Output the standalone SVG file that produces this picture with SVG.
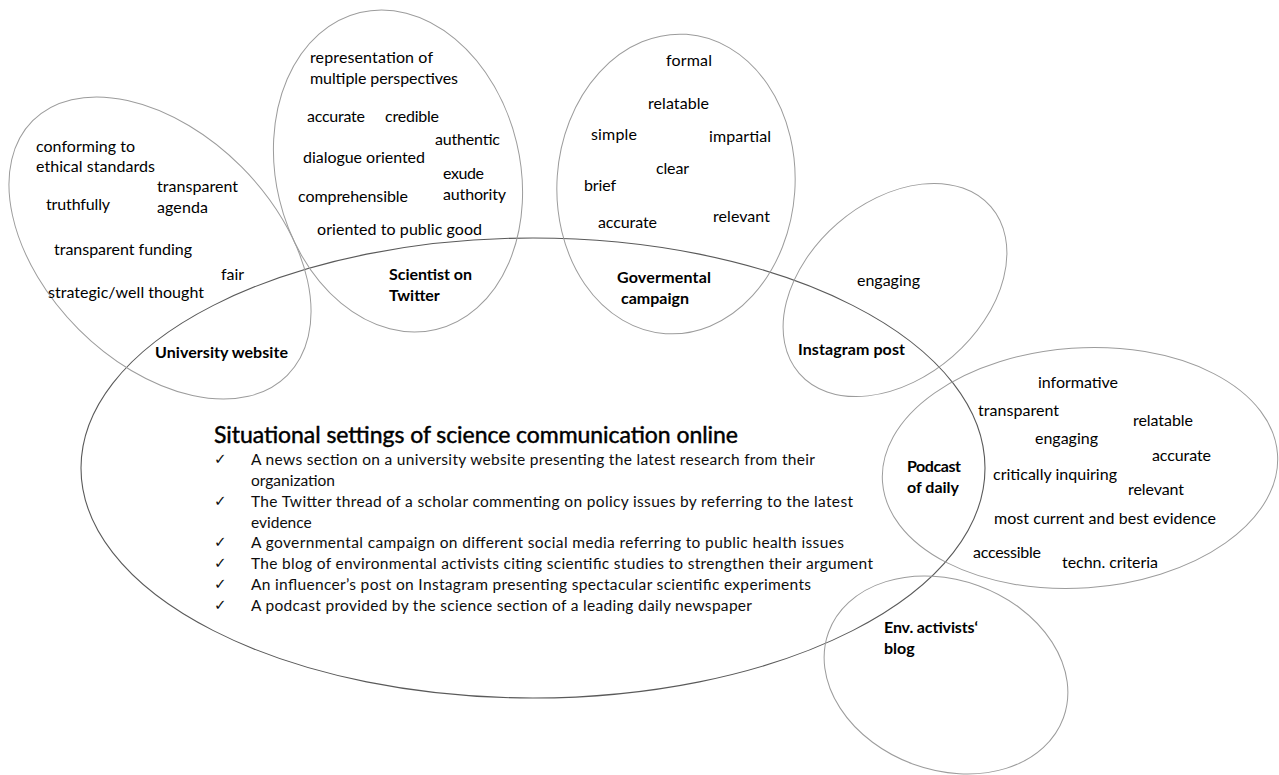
<svg xmlns="http://www.w3.org/2000/svg" width="1279" height="775" viewBox="0 0 1279 775">
  <style>
    .bg { fill: #ffffff; }
    .ring { fill: none; stroke: #9c9c9c; stroke-width: 1; }
    .main-ring { fill: none; stroke: #5a5a5a; stroke-width: 1.1; }
    .kw { font-family: Lato, "Open Sans", "Liberation Sans", sans-serif; font-size: 16px; fill: #000000; }
    .lbl { font-family: Lato, "Open Sans", "Liberation Sans", sans-serif; font-size: 16px; font-weight: 700; fill: #000000; }
    .title { font-family: Lato, "Open Sans", "Liberation Sans", sans-serif; font-size: 23px; fill: #000000; stroke: #000000; stroke-width: 0.45; }
    .item { font-family: Lato, "Open Sans", "Liberation Sans", sans-serif; font-size: 15.5px; fill: #0d0d0d; }
    .tick { font-family: "DejaVu Sans", sans-serif; font-size: 15px; fill: #0d0d0d; }
  </style>

  <rect class="bg" x="0" y="0" width="1279" height="775"/>

  <!-- central setting: all online science communication situations -->
  <g id="settings">
    <ellipse class="main-ring" cx="533" cy="468" rx="452" ry="230"/>
    <text class="title" x="214" y="443" textLength="524">Situational settings of science communication online</text>
    <g class="tick">
      <text x="214" y="464">✓</text>
      <text x="214" y="506">✓</text>
      <text x="214" y="547">✓</text>
      <text x="214" y="568">✓</text>
      <text x="214" y="589">✓</text>
      <text x="214" y="610">✓</text>
    </g>
    <text class="item" x="251" y="465" textLength="564">A news section on a university website presenting the latest research from their</text>
    <text class="item" x="251" y="486">organization</text>
    <text class="item" x="251" y="507" textLength="602">The Twitter thread of a scholar commenting on policy issues by referring to the latest</text>
    <text class="item" x="251" y="528">evidence</text>
    <text class="item" x="251" y="548" textLength="593">A governmental campaign on different social media referring to public health issues</text>
    <text class="item" x="251" y="569" textLength="622">The blog of environmental activists citing scientific studies to strengthen their argument</text>
    <text class="item" x="251" y="590" textLength="560">An influencer’s post on Instagram presenting spectacular scientific experiments</text>
    <text class="item" x="251" y="611" textLength="501">A podcast provided by the science section of a leading daily newspaper</text>
  </g>

  <!-- university website -->
  <g id="university-website">
    <ellipse class="ring" cx="160" cy="248" rx="180" ry="115" transform="rotate(45 160 248)"/>
    <text class="kw" x="36" y="152" textLength="99">conforming to</text>
    <text class="kw" x="36" y="172" textLength="119">ethical standards</text>
    <text class="kw" x="157" y="192" textLength="81">transparent</text>
    <text class="kw" x="157" y="213" textLength="51">agenda</text>
    <text class="kw" x="46" y="210" textLength="64">truthfully</text>
    <text class="kw" x="54" y="255" textLength="138">transparent funding</text>
    <text class="kw" x="221" y="280" textLength="23">fair</text>
    <text class="kw" x="48" y="298" textLength="156">strategic/well thought</text>
    <text class="lbl" x="155" y="358" textLength="133">University website</text>
  </g>

  <!-- scientist on twitter -->
  <g id="scientist-on-twitter">
    <ellipse class="ring" cx="398" cy="171" rx="122" ry="163" transform="rotate(-13.5 398 171)"/>
    <text class="kw" x="310" y="63" textLength="123">representation of</text>
    <text class="kw" x="310" y="84" textLength="148">multiple perspectives</text>
    <text class="kw" x="307" y="122" textLength="58">accurate</text>
    <text class="kw" x="385" y="122" textLength="54">credible</text>
    <text class="kw" x="435" y="145" textLength="65">authentic</text>
    <text class="kw" x="303" y="163" textLength="122">dialogue oriented</text>
    <text class="kw" x="443" y="179" textLength="41">exude</text>
    <text class="kw" x="443" y="200" textLength="63">authority</text>
    <text class="kw" x="298" y="202" textLength="110">comprehensible</text>
    <text class="kw" x="317" y="235" textLength="165">oriented to public good</text>
    <text class="lbl" x="389" y="280" textLength="83">Scientist on</text>
    <text class="lbl" x="389" y="301">Twitter</text>
  </g>

  <!-- governmental campaign -->
  <g id="governmental-campaign">
    <ellipse class="ring" cx="676" cy="184" rx="119" ry="150" transform="rotate(4 676 184)"/>
    <text class="kw" x="666" y="66" textLength="46">formal</text>
    <text class="kw" x="648" y="109" textLength="61">relatable</text>
    <text class="kw" x="591" y="140" textLength="46">simple</text>
    <text class="kw" x="709" y="142" textLength="62">impartial</text>
    <text class="kw" x="656" y="174" textLength="33">clear</text>
    <text class="kw" x="584" y="191" textLength="32">brief</text>
    <text class="kw" x="598" y="228" textLength="59">accurate</text>
    <text class="kw" x="713" y="222" textLength="57">relevant</text>
    <text class="lbl" x="617" y="283" textLength="94">Govermental</text>
    <text class="lbl" x="621" y="304" textLength="68">campaign</text>
  </g>

  <!-- instagram post -->
  <g id="instagram-post">
    <ellipse class="ring" cx="895" cy="290" rx="127" ry="88" transform="rotate(-41 895 290)"/>
    <text class="kw" x="857" y="286" textLength="63">engaging</text>
    <text class="lbl" x="798" y="355" textLength="107">Instagram post</text>
  </g>

  <!-- podcast of a daily newspaper -->
  <g id="podcast-of-daily">
    <ellipse class="ring" cx="1080" cy="468" rx="198" ry="120" transform="rotate(-4 1080 468)"/>
    <text class="kw" x="1038" y="388" textLength="80">informative</text>
    <text class="kw" x="978" y="416" textLength="81">transparent</text>
    <text class="kw" x="1133" y="426" textLength="60">relatable</text>
    <text class="kw" x="1035" y="444" textLength="63">engaging</text>
    <text class="kw" x="1152" y="461" textLength="59">accurate</text>
    <text class="kw" x="993" y="480" textLength="124">critically inquiring</text>
    <text class="kw" x="1128" y="495" textLength="56">relevant</text>
    <text class="kw" x="994" y="524" textLength="222">most current and best evidence</text>
    <text class="kw" x="973" y="558" textLength="68">accessible</text>
    <text class="kw" x="1062" y="568" textLength="96">techn. criteria</text>
    <text class="lbl" x="907" y="472" textLength="54">Podcast</text>
    <text class="lbl" x="907" y="493" textLength="52">of daily</text>
  </g>

  <!-- environmental activists' blog -->
  <g id="env-activists-blog">
    <ellipse class="ring" cx="946" cy="675" rx="125" ry="95" transform="rotate(20 946 675)"/>
    <text class="lbl" x="884" y="633" textLength="94">Env. activists‘</text>
    <text class="lbl" x="884" y="654">blog</text>
  </g>
</svg>
